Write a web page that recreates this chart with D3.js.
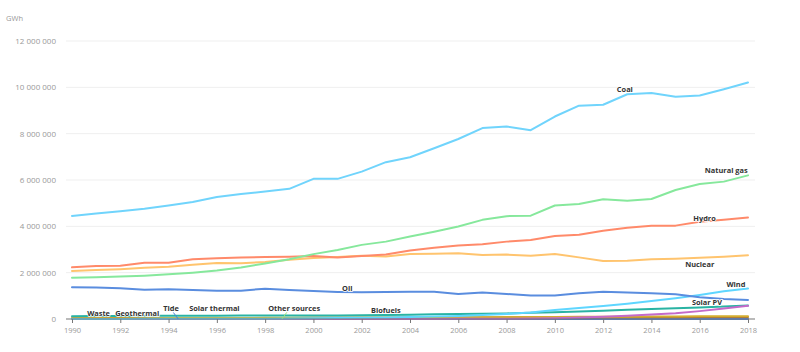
<!DOCTYPE html>
<html>
<head>
<meta charset="utf-8">
<script src="https://cdn.jsdelivr.net/npm/d3@7/dist/d3.min.js"></script>
<style>
  html, body { margin: 0; padding: 0; background: #fff; }
  svg { display: block; font-family: "Open Sans", Roboto, sans-serif; }
</style>
</head>
<body>
<svg id="chart" width="800" height="352"></svg>
<script>
const years = d3.range(1990, 2019);
const yTicks = [0, 2000000, 4000000, 6000000, 8000000, 10000000, 12000000];
const xTicks = d3.range(1990, 2019, 2);

const coal = [4450000,4550000,4650000,4760000,4900000,5050000,5270000,5400000,5500000,5620000,6050000,6050000,6360000,6770000,6980000,7370000,7770000,8240000,8310000,8150000,8740000,9210000,9250000,9700000,9760000,9590000,9650000,9920000,10210000];
const naturalGas = [1780000,1800000,1830000,1870000,1930000,2000000,2090000,2220000,2400000,2580000,2800000,2980000,3200000,3340000,3560000,3770000,3990000,4280000,4440000,4460000,4900000,4960000,5170000,5100000,5180000,5570000,5830000,5930000,6200000];
const hydro = [2230000,2290000,2300000,2430000,2430000,2580000,2620000,2650000,2680000,2690000,2720000,2660000,2720000,2780000,2960000,3080000,3170000,3230000,3340000,3410000,3580000,3640000,3810000,3940000,4020000,4030000,4200000,4280000,4380000];
const nuclear = [2070000,2110000,2150000,2210000,2260000,2340000,2420000,2410000,2460000,2560000,2630000,2680000,2730000,2700000,2810000,2820000,2840000,2760000,2780000,2730000,2810000,2660000,2500000,2510000,2580000,2600000,2640000,2690000,2750000];
const oil = [1370000,1360000,1330000,1260000,1280000,1250000,1220000,1220000,1310000,1250000,1210000,1170000,1150000,1170000,1180000,1180000,1080000,1140000,1080000,1010000,1010000,1110000,1180000,1140000,1110000,1070000,940000,860000,820000];
const wind = [4000,4000,5000,6000,7000,8000,10000,12000,16000,21000,31000,38000,52000,63000,85000,104000,133000,173000,220000,276000,390000,470000,560000,660000,780000,900000,1040000,1200000,1320000];
const solarPV = [90,100,100,120,150,200,250,300,400,600,800,1200,1700,2200,3000,4000,5700,7600,12000,20000,32000,63000,97000,135000,190000,250000,340000,450000,570000];
const biofuels = [120000,125000,130000,135000,138000,140000,143000,147000,150000,150000,152000,155000,165000,175000,185000,200000,212000,225000,240000,265000,290000,320000,360000,395000,430000,465000,500000,540000,580000];
const waste = [30000,32000,34000,36000,38000,40000,43000,46000,50000,53000,56000,58000,60000,63000,66000,70000,74000,78000,82000,86000,90000,94000,98000,102000,106000,110000,114000,118000,122000];
const geothermal = [36000,37000,38000,39000,40000,40000,42000,44000,46000,48000,52000,52000,52000,54000,56000,58000,60000,62000,65000,67000,68000,69000,70000,72000,77000,80000,82000,85000,89000];
const tide = [600,600,600,600,600,600,600,600,600,600,600,600,600,600,600,600,600,600,600,600,700,700,1000,1000,1000,1000,1000,1000,1000];
const solarThermal = [700,800,800,900,900,900,900,900,900,900,900,900,900,900,900,1000,1000,1000,1100,1500,1600,2300,4800,5500,8700,9500,11000,12000,12500];
const otherSources = [3000,3000,3000,3000,4000,4000,4000,4000,5000,5000,6000,6000,6000,7000,7000,8000,8000,8000,8000,9000,9000,9000,10000,10000,10000,10000,11000,11000,11000];

const seriesNames = ["Other sources","Solar thermal","Tide","Geothermal","Waste","Biofuels","Solar PV","Wind","Oil","Nuclear","Hydro","Natural gas","Coal"];
const seriesValues = [otherSources, solarThermal, tide, geothermal, waste, biofuels, solarPV, wind, oil, nuclear, hydro, naturalGas, coal];
const seriesColors = ["#9be07a","#f3e46a","#4a7fd6","#a6703a","#d4ad2e","#29b3a3","#c46ac9","#5fd6ff","#5a8ddf","#ffc46e","#ff8a6a","#86e89c","#70d4fc"];

// label anchors: [year, value] in data space
const labelNames = ["Coal","Natural gas","Hydro","Nuclear","Oil","Wind","Solar PV","Biofuels","Waste","Geothermal","Tide","Solar thermal","Other sources"];
const labelYears = [2012.9, 2017.1, 2016.2, 2016.0, 2001.4, 2017.5, 2016.3, 2003.0, 1991.1, 1992.7, 1994.1, 1995.9, 1999.2];
const labelValues = [9800000, 6300000, 4230000, 2250000, 1200000, 1380000, 600000, 260000, 130000, 130000, 350000, 350000, 350000];

const svg = d3.select("#chart");
const x = d3.scaleLinear().domain([1990, 2018]).range([72, 748]);
const y = d3.scaleLinear().domain([0, 12000000]).range([319, 41]);
const fmt = v => d3.format(",")(v).replace(/,/g, " ");

// grid
svg.append("g").selectAll("line").data(yTicks.filter(d => d > 0)).join("line")
  .attr("x1", 66).attr("x2", 755)
  .attr("y1", d => y(d)).attr("y2", d => y(d))
  .attr("stroke", "#efefef").attr("stroke-width", 1);

// y labels
svg.append("g").selectAll("text").data(yTicks).join("text")
  .attr("x", 56).attr("y", d => y(d) + 3)
  .attr("text-anchor", "end")
  .attr("font-size", 8).attr("fill", "#999")
  .text(fmt);

svg.append("text").attr("x", 6).attr("y", 21)
  .attr("font-size", 7.5).attr("fill", "#999").text("GWh");

// lines
const line = d3.line().x((d, i) => x(years[i])).y(d => y(d));
svg.append("g").selectAll("path").data(seriesValues).join("path")
  .attr("d", d => line(d))
  .attr("fill", "none")
  .attr("stroke", (d, i) => seriesColors[i])
  .attr("stroke-width", 2)
  .attr("stroke-linejoin", "round")
  .attr("stroke-linecap", "round");

// x axis
const xAxis = d3.axisBottom(x).tickValues(xTicks).tickSize(4).tickFormat(d3.format("d"));
const gx = svg.append("g").attr("transform", "translate(0,319)").call(xAxis);
gx.select(".domain").remove();
gx.append("line").attr("x1", 66).attr("x2", 755).attr("stroke", "#777").attr("stroke-width", 1.2);
gx.selectAll(".tick line").attr("stroke", "#777");
gx.selectAll(".tick text").attr("font-size", 7.5).attr("fill", "#999").attr("font-family", "Open Sans, Roboto, sans-serif").attr("dy", "0.9em");

// leader lines
svg.append("line").attr("x1", x(1994.2)).attr("y1", y(280000)).attr("x2", x(1994.4)).attr("y2", y(600)).attr("stroke", "#4a7fd6").attr("stroke-width", 1);
svg.append("line").attr("x1", x(1998.9)).attr("y1", y(290000)).attr("x2", x(1998.7)).attr("y2", y(8000)).attr("stroke", "#9be07a").attr("stroke-width", 1);

// labels
svg.append("g").selectAll("text").data(labelNames).join("text")
  .attr("x", (d, i) => x(labelYears[i]))
  .attr("y", (d, i) => y(labelValues[i]))
  .attr("text-anchor", "middle")
  .attr("font-size", 7.4).attr("font-weight", 700)
  .attr("fill", "#333")
  .attr("stroke", "#fff").attr("stroke-width", 1.5).attr("paint-order", "stroke")
  .text(d => d);
</script>
</body>
</html>
